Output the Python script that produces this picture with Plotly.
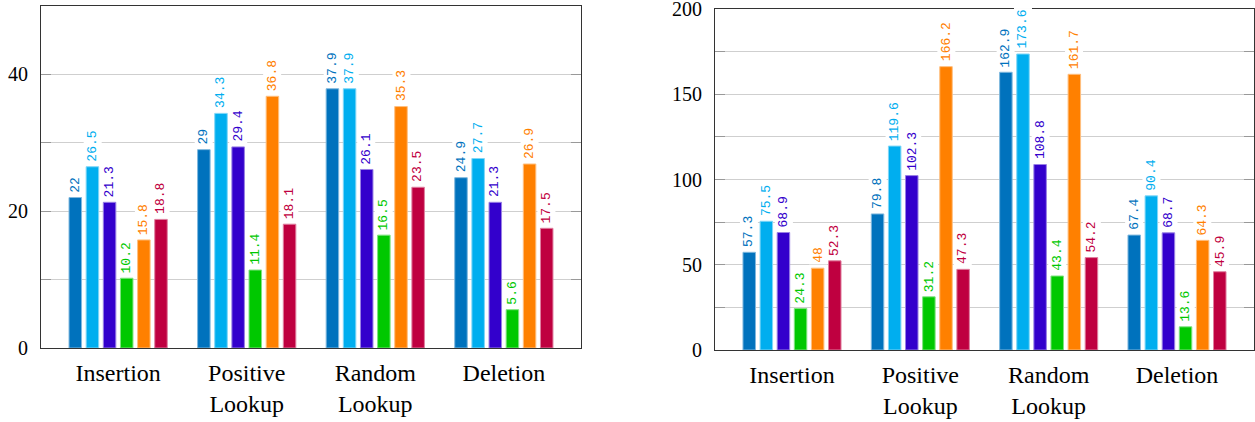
import plotly.graph_objects as go

categories = ["Insertion", "Positive<br>Lookup", "Random<br>Lookup", "Deletion"]

# Left chart (series values per category)
left_s1 = [22, 29, 37.9, 24.9]
left_s2 = [26.5, 34.3, 37.9, 27.7]
left_s3 = [21.3, 29.4, 26.1, 21.3]
left_s4 = [10.2, 11.4, 16.5, 5.6]
left_s5 = [15.8, 36.8, 35.3, 26.9]
left_s6 = [18.8, 18.1, 23.5, 17.5]

# Right chart
right_s1 = [57.3, 79.8, 162.9, 67.4]
right_s2 = [75.5, 119.6, 173.6, 90.4]
right_s3 = [68.9, 102.3, 108.8, 68.7]
right_s4 = [24.3, 31.2, 43.4, 13.6]
right_s5 = [48, 166.2, 161.7, 64.3]
right_s6 = [52.3, 47.3, 54.2, 45.9]

left_series = [left_s1, left_s2, left_s3, left_s4, left_s5, left_s6]
right_series = [right_s1, right_s2, right_s3, right_s4, right_s5, right_s6]
series_names = ["Series 1", "Series 2", "Series 3", "Series 4", "Series 5", "Series 6"]

left_ticks = [0, 10, 20, 30, 40]
left_ticktext = ["0", "", "20", "", "40"]
right_ticks = [0, 25, 50, 75, 100, 125, 150, 175, 200]
right_ticktext = ["0", "", "50", "", "100", "", "150", "", "200"]

colors = ["#0072bd", "#00aeef", "#3300cc", "#00c800", "#ff8000", "#bf0040"]
edge_colors = ["#7fb8de", "#7fd6f7", "#9980e5", "#7fe37f", "#ffbf7f", "#df7f9f"]

BARGAP = 0.2
BARGROUPGAP = 0.27
N = len(series_names)

fig = go.Figure()

def add_panel(series_list, xref, yref):
    for j, vals in enumerate(series_list):
        fig.add_trace(go.Bar(
            x=categories, y=vals, name=series_names[j],
            marker=dict(color=colors[j], line=dict(color=edge_colors[j], width=1)),
            xaxis=xref, yaxis=yref, showlegend=False,
        ))
        slot = (1 - BARGAP) / N
        for i, v in enumerate(vals):
            fig.add_annotation(
                x=i + (j - (N - 1) / 2) * slot, y=v,
                xref=xref, yref=yref,
                text=f"{v:g}", showarrow=False, textangle=-90,
                xanchor="center", yanchor="bottom", yshift=3,
                bgcolor="white", borderpad=1,
                font=dict(family="Liberation Mono", size=13, color=colors[j]),
            )

add_panel(left_series, "x", "y")
add_panel(right_series, "x2", "y2")

axis_font = dict(family="Liberation Serif", size=20, color="black")
cat_font = dict(family="Liberation Serif", size=24, color="black")

common_x = dict(
    type="category", range=[-0.6, 3.6], showline=True, mirror=True,
    linecolor="#333333", linewidth=1, ticks="", showgrid=False,
    tickfont=cat_font, ticklabelstandoff=3, fixedrange=True, automargin=False,
)
common_y = dict(
    showline=True, mirror="ticks", linecolor="#333333", linewidth=1,
    ticks="inside", ticklen=10, tickcolor="#999999", tickwidth=1,
    showgrid=True, gridcolor="#cfcfcf", gridwidth=1, zeroline=False,
    tickfont=axis_font, ticklabelstandoff=8, tickmode="array", automargin=False,
    ticklabeloverflow="allow",
)

fig.update_layout(
    width=1255, height=422,
    margin=dict(l=0, r=0, t=0, b=0, autoexpand=False),
    paper_bgcolor="white", plot_bgcolor="white",
    barmode="group", bargap=BARGAP, bargroupgap=BARGROUPGAP,
    xaxis=dict(domain=[41 / 1255, 581 / 1255], anchor="y", **common_x),
    yaxis=dict(domain=[1 - 348 / 422, 1 - 6 / 422], anchor="x", range=[0, 50],
               tickvals=left_ticks, ticktext=left_ticktext, **common_y),
    xaxis2=dict(domain=[715 / 1255, 1254 / 1255], anchor="y2", **common_x),
    yaxis2=dict(domain=[1 - 350 / 422, 1 - 9 / 422], anchor="x2", range=[0, 200],
                tickvals=right_ticks, ticktext=right_ticktext, **common_y),
)

fig.write_html("out.html")
